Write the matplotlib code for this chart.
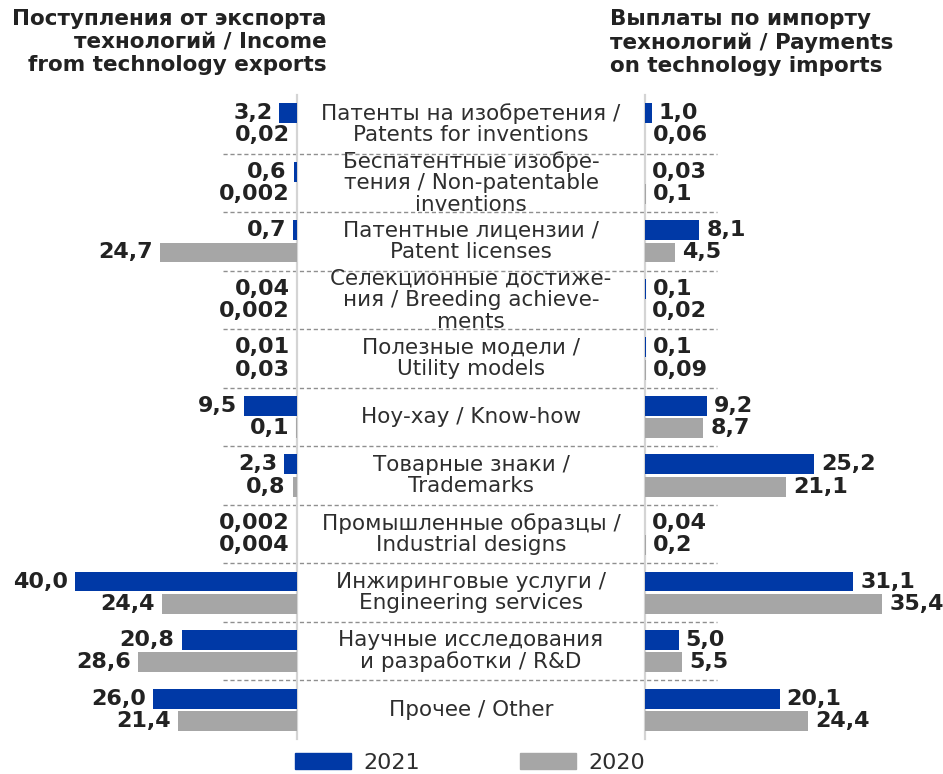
import matplotlib
matplotlib.use('Agg')
import matplotlib.pyplot as plt
from matplotlib.patches import Patch

categories = [
    "Патенты на изобретения /\nPatents for inventions",
    "Беспатентные изобре-\nтения / Non-patentable\ninventions",
    "Патентные лицензии /\nPatent licenses",
    "Селекционные достиже-\nния / Breeding achieve-\nments",
    "Полезные модели /\nUtility models",
    "Ноу-хау / Know-how",
    "Товарные знаки /\nTrademarks",
    "Промышленные образцы /\nIndustrial designs",
    "Инжиринговые услуги /\nEngineering services",
    "Научные исследования\nи разработки / R&D",
    "Прочее / Other",
]
export_2021 = [3.2, 0.6, 0.7, 0.04, 0.01, 9.5, 2.3, 0.002, 40.0, 20.8, 26.0]
export_2020 = [0.02, 0.002, 24.7, 0.002, 0.03, 0.1, 0.8, 0.004, 24.4, 28.6, 21.4]
import_2021 = [1.0, 0.03, 8.1, 0.1, 0.1, 9.2, 25.2, 0.04, 31.1, 5.0, 20.1]
import_2020 = [0.06, 0.1, 4.5, 0.02, 0.09, 8.7, 21.1, 0.2, 35.4, 5.5, 24.4]
years = ["2021", "2020"]
title_left = "Поступления от экспорта\nтехнологий / Income\nfrom technology exports"
title_right = "Выплаты по импорту\nтехнологий / Payments\non technology imports"

BLUE = "#0039a6"
GREY = "#a6a6a6"
DARK = "#222222"
LABEL = "#2e2e2e"

def fmt(v):
    s = f"{v:.1f}" if v >= 1 else repr(v)
    return s.replace(".", ",")

W, H = 943, 774
fig = plt.figure(figsize=(W / 100, H / 100), dpi=100)
top_px, bot_px = 95, 739

def rect(x0, x1):
    return [x0 / W, 1 - bot_px / H, (x1 - x0) / W, (bot_px - top_px) / H]

n = len(categories)
axM = fig.add_axes(rect(0, W))
axM.set_xlim(0, W)
axM.set_ylim(n, 0)
axM.axis("off")

axL = fig.add_axes(rect(0, 297))
axL.set_xlim(297 / 5.55, 0)
axL.set_ylim(n, 0)
axR = fig.add_axes(rect(645, 943))
axR.set_xlim(0, 298 / 6.7)
axR.set_ylim(n, 0)
for ax in (axL, axR):
    ax.axis("off")
    ax.patch.set_visible(False)
    ax.axvline(0, color="#d4d4d4", lw=1.6, clip_on=False, zorder=0)

off = 0.19
bh = 0.34
ys = [i + 0.5 for i in range(n)]
y1 = [y - off for y in ys]
y2 = [y + off for y in ys]

axL.barh(y1, export_2021, height=bh, color=BLUE, zorder=2)
axL.barh(y2, export_2020, height=bh, color=GREY, zorder=2)
axR.barh(y1, import_2021, height=bh, color=BLUE, zorder=2)
axR.barh(y2, import_2020, height=bh, color=GREY, zorder=2)

vfont = dict(fontsize=16, fontweight="bold", color=DARK, va="center")
for vals, yy in ((export_2021, y1), (export_2020, y2)):
    for v, y in zip(vals, yy):
        axL.annotate(fmt(v), xy=(v, y), xytext=(-7, 0), textcoords="offset pixels",
                     ha="right", **vfont)
for vals, yy in ((import_2021, y1), (import_2020, y2)):
    for v, y in zip(vals, yy):
        axR.annotate(fmt(v), xy=(v, y), xytext=(7, 0), textcoords="offset pixels",
                     ha="left", **vfont)

for i, c in enumerate(categories):
    axM.text(471, ys[i], c, ha="center", va="center", fontsize=15.5,
             color=LABEL, linespacing=1.1, fontweight="normal")
for k in range(1, n):
    axM.plot([223, 717], [k, k], color="#8f8f8f", lw=1.0, ls=(0, (3, 2)), zorder=1)

fig.text(327 / W, 1 - 9 / H, title_left, ha="right", va="top", fontsize=15.5,
         fontweight="bold", color=DARK, linespacing=1.2)
fig.text(610 / W, 1 - 9 / H, title_right, ha="left", va="top", fontsize=15.5,
         fontweight="bold", color=DARK, linespacing=1.2)

handles = [Patch(color=BLUE), Patch(color=GREY)]
fs = 16
px = fs * 100 / 72
fig.legend(handles, years, loc="center", bbox_to_anchor=(470 / W, 1 - 763 / H),
           ncol=2, frameon=False, fontsize=fs, handlelength=56 / px,
           handleheight=16 / px, handletextpad=12 / px, columnspacing=100 / px,
           labelcolor=LABEL)

fig.savefig("out.png", dpi=100)
